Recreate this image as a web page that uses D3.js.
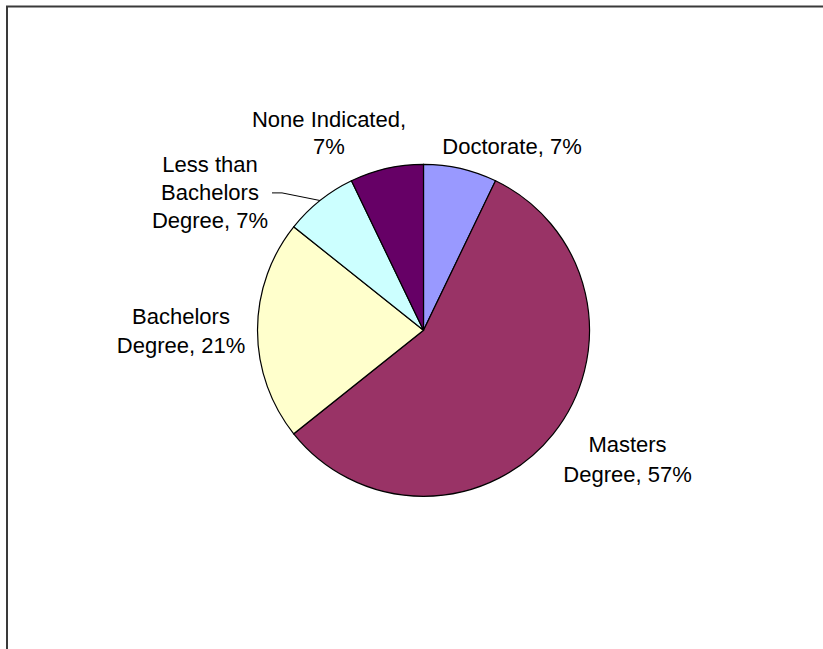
<!DOCTYPE html>
<html>
<head>
<meta charset="utf-8">
<script src="https://cdn.jsdelivr.net/npm/d3@7"></script>
<style>
  html, body { margin: 0; padding: 0; background: #fff; }
  svg { display: block; }
  text { font-family: "Liberation Sans", Arial, sans-serif; font-size: 22px; fill: #000; }
</style>
</head>
<body>
<svg id="chart" width="823" height="649"></svg>
<script>
// Respondents by highest degree earned (counts)
const categories = ["Doctorate", "Masters Degree", "Bachelors Degree", "Less than Bachelors Degree", "None Indicated"];
const counts = [1, 8, 3, 1, 1];
const colors = ["#9999FF", "#993366", "#FFFFCC", "#CCFFFF", "#660066"];
// Label text lines (the percentage is appended from the data)
const labelLines = [["Doctorate,"], ["Masters", "Degree,"], ["Bachelors", "Degree,"], ["Less than", "Bachelors", "Degree,"], ["None Indicated,", ""]];

const W = 823, H = 649;
const cx = 423.5, cy = 330.3, R = 166;

const svg = d3.select("#chart");

// chart area frame (top and left edges visible in the window)
svg.append("path")
  .attr("d", `M7,${H} V6.5 H${W}`)
  .attr("fill", "none")
  .attr("stroke", "#3a3a3a")
  .attr("stroke-width", 2);

const total = d3.sum(counts);
const pct = counts.map(v => Math.round(v / total * 100) + "%");

const pie = d3.pie().sort(null).value(d => d)(counts);
const arc = d3.arc().innerRadius(0).outerRadius(R);

const g = svg.append("g").attr("transform", `translate(${cx},${cy})`);

g.selectAll("path.slice")
  .data(pie)
  .join("path")
  .attr("class", "slice")
  .attr("d", arc)
  .attr("fill", (d, i) => colors[i])
  .attr("stroke", "#000")
  .attr("stroke-width", 1.2);

// label placement: centre x and first baseline, relative to pie centre
const labelPos = [
  { dx: 88.5, dy: -176, lh: 0 },
  { dx: 204, dy: 121.7, lh: 30 },
  { dx: -242.5, dy: -6.3, lh: 29 },
  { dx: -213.5, dy: -158.6, lh: 28.2 },
  { dx: -94.5, dy: -203.6, lh: 27.6 }
];

const labels = g.selectAll("text.lbl")
  .data(pie)
  .join("text")
  .attr("class", "lbl")
  .attr("text-anchor", "middle");

labels.each(function(d, i) {
  const lines = labelLines[i].slice();
  const last = lines.length - 1;
  lines[last] = lines[last] ? lines[last] + " " + pct[i] : pct[i];
  const t = d3.select(this);
  lines.forEach((ln, k) => {
    t.append("tspan")
      .attr("x", labelPos[i].dx)
      .attr("y", labelPos[i].dy + k * labelPos[i].lh)
      .text(ln);
  });
});

// leader line for the "Less than Bachelors" label
const lessIdx = 3;
const mid = (pie[lessIdx].startAngle + pie[lessIdx].endAngle) / 2;
const edge = [R * Math.sin(mid), -R * Math.cos(mid)];
const startX = labelPos[lessIdx].dx + 62;
const lineY = labelPos[lessIdx].dy + labelPos[lessIdx].lh - 7;
g.append("path")
  .attr("d", d3.line()([[startX, lineY], [startX + 10, lineY], edge]))
  .attr("fill", "none")
  .attr("stroke", "#000")
  .attr("stroke-width", 1);
</script>
</body>
</html>
